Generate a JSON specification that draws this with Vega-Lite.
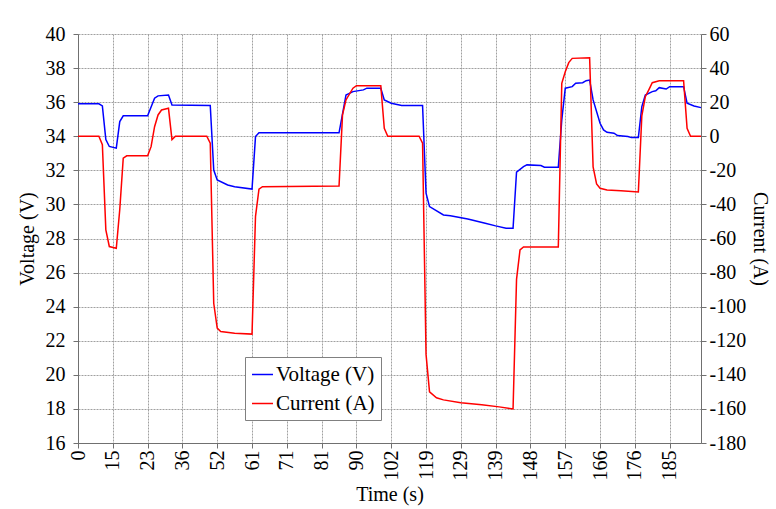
{
  "$schema": "https://vega.github.io/schema/vega-lite/v6.json",
  "width": 623,
  "height": 409,
  "autosize": {"type": "none"},
  "padding": {"left": 78, "top": 34, "right": 75, "bottom": 66},
  "background": "white",
  "config": {
    "font": "Liberation Serif",
    "view": {"stroke": null},
    "axis": {
      "labelFont": "Liberation Serif",
      "titleFont": "Liberation Serif",
      "labelFontSize": 20,
      "titleFontSize": 20,
      "titleFontWeight": "normal",
      "labelColor": "black",
      "titleColor": "black",
      "domainColor": "#707070",
      "tickColor": "#707070",
      "tickSize": 5,
      "gridColor": "#a0a0a0",
      "gridDash": [2, 1],
      "gridWidth": 1,
      "labelOverlap": false
    }
  },
  "datasets": {
    "voltage": [
      {"idx": 0, "value": 35.9}, {"idx": 6, "value": 35.9}, {"idx": 7, "value": 35.78}, {"idx": 8, "value": 33.8},
      {"idx": 9, "value": 33.4}, {"idx": 11, "value": 33.3}, {"idx": 12, "value": 34.86}, {"idx": 13, "value": 35.2},
      {"idx": 20, "value": 35.2}, {"idx": 22, "value": 36.23}, {"idx": 23, "value": 36.37}, {"idx": 26, "value": 36.42},
      {"idx": 27, "value": 35.84}, {"idx": 38, "value": 35.8}, {"idx": 39, "value": 32.02}, {"idx": 40, "value": 31.44},
      {"idx": 43, "value": 31.14}, {"idx": 45, "value": 31.04}, {"idx": 50, "value": 30.9}, {"idx": 51, "value": 33.98},
      {"idx": 52, "value": 34.2}, {"idx": 75, "value": 34.2}, {"idx": 77, "value": 36.42}, {"idx": 79, "value": 36.62},
      {"idx": 82, "value": 36.72}, {"idx": 83, "value": 36.82}, {"idx": 87, "value": 36.82}, {"idx": 88, "value": 36.13},
      {"idx": 90, "value": 35.94}, {"idx": 93, "value": 35.8}, {"idx": 99, "value": 35.8}, {"idx": 100, "value": 30.66},
      {"idx": 101, "value": 29.87}, {"idx": 105, "value": 29.38}, {"idx": 107, "value": 29.34}, {"idx": 112, "value": 29.15},
      {"idx": 117, "value": 28.9}, {"idx": 120, "value": 28.74}, {"idx": 123, "value": 28.6}, {"idx": 125, "value": 28.6},
      {"idx": 126, "value": 31.9}, {"idx": 128, "value": 32.22}, {"idx": 129, "value": 32.32}, {"idx": 133, "value": 32.28},
      {"idx": 134, "value": 32.18}, {"idx": 138, "value": 32.18}, {"idx": 139, "value": 34.96}, {"idx": 140, "value": 36.82},
      {"idx": 142, "value": 36.91}, {"idx": 143, "value": 37.11}, {"idx": 145, "value": 37.14}, {"idx": 146, "value": 37.26},
      {"idx": 147, "value": 37.3}, {"idx": 148, "value": 36.13}, {"idx": 150, "value": 34.76}, {"idx": 151, "value": 34.37},
      {"idx": 152, "value": 34.23}, {"idx": 154, "value": 34.18}, {"idx": 155, "value": 34.04}, {"idx": 158, "value": 33.98},
      {"idx": 159, "value": 33.92}, {"idx": 161, "value": 33.92}, {"idx": 162, "value": 35.74}, {"idx": 163, "value": 36.42},
      {"idx": 165, "value": 36.62}, {"idx": 166, "value": 36.67}, {"idx": 167, "value": 36.85}, {"idx": 169, "value": 36.77},
      {"idx": 170, "value": 36.91}, {"idx": 174, "value": 36.91}, {"idx": 175, "value": 35.94}, {"idx": 177, "value": 35.78},
      {"idx": 179, "value": 35.68}
    ],
    "current": [
      {"idx": 0, "value": 0}, {"idx": 6, "value": 0}, {"idx": 7, "value": -5}, {"idx": 8, "value": -55},
      {"idx": 9, "value": -64.7}, {"idx": 11, "value": -65.7}, {"idx": 12, "value": -43}, {"idx": 13, "value": -12.9},
      {"idx": 14, "value": -11.5}, {"idx": 20, "value": -11.5}, {"idx": 21, "value": -6.1}, {"idx": 22, "value": 5.6},
      {"idx": 23, "value": 12.5}, {"idx": 24, "value": 15.4}, {"idx": 26, "value": 16.4}, {"idx": 27, "value": -2},
      {"idx": 28, "value": 0}, {"idx": 37, "value": 0}, {"idx": 38, "value": -4}, {"idx": 39, "value": -98},
      {"idx": 40, "value": -112.6}, {"idx": 41, "value": -114.6}, {"idx": 45, "value": -115.6}, {"idx": 50, "value": -116.1},
      {"idx": 51, "value": -47}, {"idx": 52, "value": -31}, {"idx": 53, "value": -29.6}, {"idx": 75, "value": -29.2},
      {"idx": 76, "value": 12.5}, {"idx": 77, "value": 21.3}, {"idx": 79, "value": 28.2}, {"idx": 80, "value": 29.7},
      {"idx": 87, "value": 29.7}, {"idx": 88, "value": 4.7}, {"idx": 89, "value": 0}, {"idx": 98, "value": 0},
      {"idx": 99, "value": -4}, {"idx": 100, "value": -128}, {"idx": 101, "value": -150}, {"idx": 103, "value": -153.5},
      {"idx": 105, "value": -154.7}, {"idx": 110, "value": -156.4}, {"idx": 116, "value": -157.6}, {"idx": 121, "value": -158.8},
      {"idx": 125, "value": -160}, {"idx": 126, "value": -84}, {"idx": 127, "value": -66.7}, {"idx": 128, "value": -65},
      {"idx": 138, "value": -65}, {"idx": 139, "value": 31.1}, {"idx": 140, "value": 37.9}, {"idx": 141, "value": 43.2},
      {"idx": 142, "value": 45.7}, {"idx": 147, "value": 46.1}, {"idx": 148, "value": -18}, {"idx": 149, "value": -28},
      {"idx": 150, "value": -30.5}, {"idx": 152, "value": -31.5}, {"idx": 156, "value": -32}, {"idx": 161, "value": -32.7},
      {"idx": 162, "value": 12}, {"idx": 163, "value": 23.2}, {"idx": 164, "value": 27.2}, {"idx": 165, "value": 31.4},
      {"idx": 167, "value": 32.6}, {"idx": 174, "value": 32.6}, {"idx": 175, "value": 4.7}, {"idx": 176, "value": 0},
      {"idx": 179, "value": 0}
    ]
  },
  "layer": [
    {
      "data": {"name": "voltage"},
      "transform": [{"calculate": "'Voltage (V)'", "as": "series"}],
      "mark": {"type": "line", "strokeWidth": 1.5, "interpolate": "linear"},
      "encoding": {
        "x": {
          "field": "idx", "type": "quantitative",
          "scale": {"domain": [0, 179], "nice": false, "zero": false},
          "axis": {
            "title": "Time (s)",
            "tickCount": 18,
            "labelExpr": "['0','15','23','36','52','61','71','81','90','102','119','129','139','148','157','166','176','185'][round(datum.value/10)]",
            "labelAngle": -90,
            "labelPadding": 2,
            "titlePadding": 4,
            "labelOverlap": false,
            "labelFlush": false,
            "grid": true
          }
        },
        "y": {
          "field": "value", "type": "quantitative",
          "scale": {"domain": [16, 40], "nice": false, "zero": false},
          "axis": {
            "title": "Voltage (V)",
            "orient": "left",
            "tickCount": 12,
            "grid": true,
            "labelPadding": 8,
            "titlePadding": 8
          }
        },
        "color": {
          "field": "series", "type": "nominal",
          "scale": {"domain": ["Voltage (V)", "Current (A)"], "range": ["#0000ff", "#ff0000"]},
          "legend": {
            "orient": "none",
            "legendX": 167,
            "legendY": 323,
            "title": null,
            "symbolType": "stroke",
            "symbolSize": 440,
            "symbolStrokeWidth": 1.5,
            "labelFont": "Liberation Serif",
            "labelFontSize": 21,
            "labelColor": "black",
            "labelOffset": 2,
            "strokeColor": "#808080",
            "fillColor": "white",
            "padding": 6,
            "rowPadding": 7
          }
        }
      }
    },
    {
      "data": {"name": "current"},
      "transform": [{"calculate": "'Current (A)'", "as": "series"}],
      "mark": {"type": "line", "strokeWidth": 1.5, "interpolate": "linear"},
      "encoding": {
        "x": {"field": "idx", "type": "quantitative"},
        "y": {
          "field": "value", "type": "quantitative",
          "scale": {"domain": [-180, 60], "nice": false, "zero": false},
          "axis": {
            "title": "Current (A)",
            "orient": "right",
            "tickCount": 12,
            "labelExpr": "toString(datum.value)",
            "grid": false,
            "labelPadding": 3,
            "titlePadding": 4
          }
        },
        "color": {"field": "series", "type": "nominal"}
      }
    }
  ],
  "resolve": {"scale": {"y": "independent"}}
}
